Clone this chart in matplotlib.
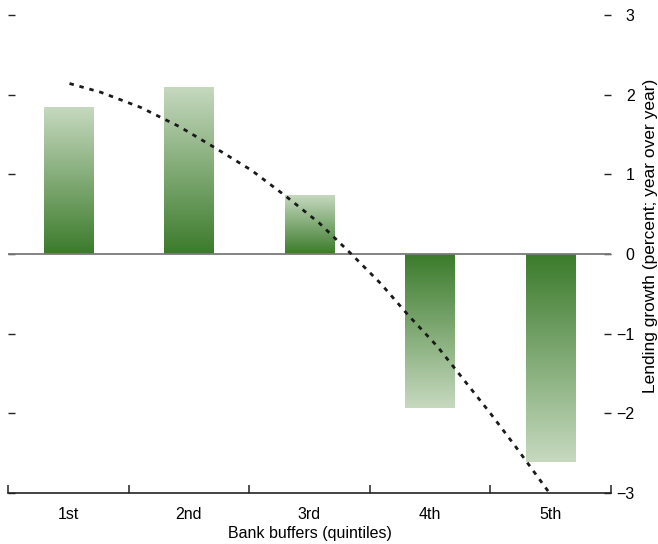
import numpy as np
import matplotlib
matplotlib.use("Agg")
import matplotlib.pyplot as plt
from matplotlib.colors import LinearSegmentedColormap

plt.rcParams['font.family'] = ['Liberation Sans Narrow', 'Liberation Sans', 'DejaVu Sans']

categories = ["1st", "2nd", "3rd", "4th", "5th"]
bar_values = [1.84, 2.10, 0.74, -1.93, -2.61]

# dotted curve (x in category units, 0 = 1st)
curve_x = [0.01, 0.27, 0.60, 0.92, 1.22, 1.52, 1.80, 2.08, 2.34, 2.59, 2.82, 3.06, 3.28, 3.50, 3.71, 3.98]
curve_y = [2.14, 2.03, 1.84, 1.60, 1.33, 1.05, 0.73, 0.39, 0.01, -0.37, -0.77, -1.16, -1.58, -2.00, -2.42, -2.98]

yticks = [-3, -2, -1, 0, 1, 2, 3]
ytick_labels = ["\u22123", "\u22122", "\u22121", "0", "1", "2", "3"]

FS = 11.5

fig = plt.figure(figsize=(6.58, 5.44), dpi=100)
ax = fig.add_axes([8/658, 51/544, (611-8)/658, (493-15)/544])

cmap = LinearSegmentedColormap.from_list("g", ["#3b7b2b", "#c6d9bf"])
grad = np.linspace(0, 1, 256).reshape(-1, 1)
width = 0.41
x = np.arange(len(categories))
bars = ax.bar(x, bar_values, width=width, color="none", edgecolor="none", zorder=2)
for b, v in zip(bars, bar_values):
    x0 = b.get_x()
    x1 = x0 + b.get_width()
    if v >= 0:
        img = ax.imshow(grad, extent=(x0, x1, 0, v), origin="lower", cmap=cmap,
                        aspect="auto", zorder=2)
    else:
        img = ax.imshow(grad[::-1], extent=(x0, x1, v, 0), origin="lower", cmap=cmap,
                        aspect="auto", zorder=2)
    img.set_clip_path(b)

ax.axhline(0, color="#7a7a7a", lw=1.3, zorder=3)
ax.plot(curve_x, curve_y, color="#1a1a1a", lw=2.0, linestyle=(0, (1.6, 2.1)), zorder=4)

ax.set_xlim(-0.5, 4.5)
ax.set_ylim(-3, 3)

for s in ["top", "left", "right"]:
    ax.spines[s].set_visible(False)
ax.spines["bottom"].set_color("#222222")
ax.spines["bottom"].set_linewidth(1.2)

ax.set_xticks(np.arange(-0.5, 5.0, 1.0))
ax.set_xticklabels([])
ax.set_xticks(x, minor=True)
ax.set_xticklabels(categories, minor=True, fontsize=FS)
ax.tick_params(axis="x", which="major", direction="in", length=6, width=1.1, color="#222222")
ax.tick_params(axis="x", which="minor", length=0, pad=10)
ax.set_xlabel("Bank buffers (quintiles)", fontsize=FS, labelpad=3)

ax.set_yticks(yticks)
ax.set_yticklabels(ytick_labels, fontsize=FS)
ax.tick_params(axis="y", which="major", direction="in", length=5, width=1.0,
               left=True, right=True, labelleft=False, labelright=True, pad=17,
               color="#222222")
for lbl in ax.get_yticklabels():
    lbl.set_horizontalalignment("right")

fig.text(650/658, 1 - 236/544, "Lending growth (percent; year over year)",
         rotation=90, ha="center", va="center", fontsize=12.5)

fig.savefig("out.png", dpi=100)
